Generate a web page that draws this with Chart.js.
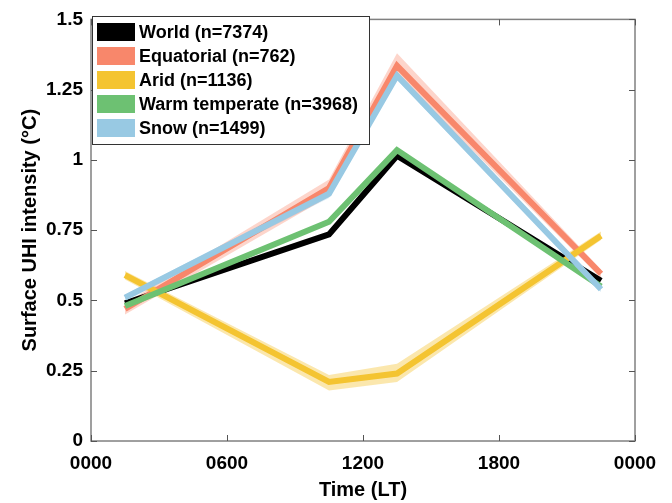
<!DOCTYPE html>
<html>
<head>
<meta charset="utf-8">
<script src="https://cdn.jsdelivr.net/npm/chart.js@4.4.0/dist/chart.umd.min.js"></script>
<style>
  html, body { margin: 0; padding: 0; background: #fff; }
  #wrap { width: 672px; height: 503px; }
</style>
</head>
<body>
<div id="wrap"><canvas id="uhiChart" width="672" height="503"></canvas></div>
<script>
// Local time of the four satellite overpasses (hours)
const hours = [1.5, 10.5, 13.5, 22.5];
const xTickLabels = ['0000', '0600', '1200', '1800', '0000'];
const yTickLabels = ['0', '0.25', '0.5', '0.75', '1', '1.25', '1.5'];

// Mean surface UHI intensity per climate zone (°C)
const world = [0.49, 0.735, 1.015, 0.57];
const equatorial = [0.47, 0.90, 1.335, 0.595];
const arid = [0.59, 0.21, 0.24, 0.73];
const warmTemperate = [0.48, 0.78, 1.035, 0.55];
const snow = [0.51, 0.88, 1.30, 0.54];

// Uncertainty bands (lower / upper)
const equatorialLo = [0.45, 0.87, 1.30, 0.58];
const equatorialHi = [0.49, 0.93, 1.38, 0.61];
const aridLo = [0.575, 0.18, 0.21, 0.715];
const aridHi = [0.605, 0.235, 0.275, 0.745];
const snowLo = [0.50, 0.865, 1.285, 0.53];
const snowHi = [0.52, 0.895, 1.315, 0.55];

const FONT = '"Liberation Sans", Arial, sans-serif';

function pts(arr) {
    return arr.map((v, i) => ({ x: hours[i], y: v }));
}

function line(label, data, color, order) {
    return {
        label: label,
        data: pts(data),
        borderColor: color,
        backgroundColor: color,
        borderWidth: 6,
        borderJoinStyle: 'miter',
        borderCapStyle: 'butt',
        pointRadius: 0,
        fill: false,
        order: order,
    };
}

function band(lo, hi, color) {
    return [{
        label: '',
        band: true,
        data: pts(hi),
        borderWidth: 0,
        pointRadius: 0,
        backgroundColor: color,
        fill: '+1',
        order: 20,
    }, {
        label: '',
        band: true,
        data: pts(lo),
        borderWidth: 0,
        pointRadius: 0,
        backgroundColor: color,
        fill: false,
        order: 20,
    }];
}

// Legend box drawn inside the axes, MATLAB style
const legendBox = {
    id: 'legendBox',
    afterDraw(chart) {
        const ctx = chart.ctx;
        const items = chart.data.datasets.filter(d => !d.band);
        const x0 = 92, y0 = 16, w = 277, h = 128;
        ctx.save();
        ctx.fillStyle = '#fff';
        ctx.fillRect(x0, y0, w, h);
        ctx.strokeStyle = '#333';
        ctx.lineWidth = 1;
        ctx.strokeRect(x0 + 0.5, y0 + 0.5, w, h);
        ctx.font = 'bold 18px ' + FONT;
        ctx.textBaseline = 'middle';
        items.forEach((d, i) => {
            const cy = y0 + 16 + i * 24;
            ctx.fillStyle = d.borderColor;
            ctx.fillRect(x0 + 5, cy - 9, 38, 18);
            ctx.fillStyle = '#000';
            ctx.fillText(d.label, x0 + 47, cy + 1);
        });
        ctx.restore();
    }
};

// Box around the axes with inward ticks
const axesFrame = {
    id: 'axesFrame',
    afterDatasetsDraw(chart) {
        const ctx = chart.ctx;
        const a = chart.chartArea;
        const xs = chart.scales.x, ys = chart.scales.y;
        ctx.save();
        ctx.strokeStyle = '#808080';
        ctx.lineWidth = 1.5;
        ctx.strokeRect(a.left, a.top, a.right - a.left, a.bottom - a.top);
        ctx.strokeStyle = '#555';
        ctx.lineWidth = 1;
        ctx.beginPath();
        xs.ticks.forEach(t => {
            const px = Math.round(xs.getPixelForValue(t.value)) + 0.5;
            ctx.moveTo(px, a.bottom); ctx.lineTo(px, a.bottom - 6);
            ctx.moveTo(px, a.top); ctx.lineTo(px, a.top + 6);
        });
        ys.ticks.forEach(t => {
            const py = Math.round(ys.getPixelForValue(t.value)) + 0.5;
            ctx.moveTo(a.left, py); ctx.lineTo(a.left + 6, py);
            ctx.moveTo(a.right, py); ctx.lineTo(a.right - 6, py);
        });
        ctx.stroke();
        ctx.restore();
    }
};

const ctx = document.getElementById('uhiChart').getContext('2d');
new Chart(ctx, {
    type: 'line',
    data: {
        datasets: [
            line('World (n=7374)', world, '#000000', 5),
            line('Equatorial (n=762)', equatorial, '#F8876B', 4),
            line('Arid (n=1136)', arid, '#F4C431', 3),
            line('Warm temperate (n=3968)', warmTemperate, '#6DC172', 2),
            line('Snow (n=1499)', snow, '#98C9E3', 1),
            ...band(equatorialLo, equatorialHi, 'rgba(248,135,107,0.35)'),
            ...band(aridLo, aridHi, 'rgba(244,196,49,0.4)'),
            ...band(snowLo, snowHi, 'rgba(152,201,227,0.4)'),
        ],
    },
    options: {
        responsive: false,
        animation: false,
        layout: { padding: { top: 15, right: 37, left: 0, bottom: 0 } },
        plugins: {
            legend: { display: false },
            tooltip: { enabled: false },
        },
        scales: {
            x: {
                type: 'linear',
                min: 0,
                max: 24,
                afterFit: s => { s.height = 62; },
                afterBuildTicks: s => { s.ticks = [0, 6, 12, 18, 24].map(v => ({ value: v })); },
                ticks: {
                    padding: 11,
                    color: '#000',
                    font: { family: FONT, size: 19, weight: 'bold' },
                    callback: (v, i) => xTickLabels[i],
                },
                grid: { drawOnChartArea: false, drawTicks: false },
                border: { display: false },
                title: {
                    display: true,
                    text: 'Time (LT)',
                    color: '#000',
                    font: { family: FONT, size: 20, weight: 'bold' },
                    padding: { top: 0, bottom: 1 },
                },
            },
            y: {
                min: 0,
                max: 1.5,
                afterFit: s => { s.width = 91; },
                afterBuildTicks: s => { s.ticks = [0, 0.25, 0.5, 0.75, 1, 1.25, 1.5].map(v => ({ value: v })); },
                ticks: {
                    padding: 8,
                    color: '#000',
                    font: { family: FONT, size: 19, weight: 'bold' },
                    callback: (v, i) => yTickLabels[i],
                },
                grid: { drawOnChartArea: false, drawTicks: false },
                border: { display: false },
                title: {
                    display: true,
                    text: 'Surface UHI intensity (°C)',
                    color: '#000',
                    font: { family: FONT, size: 20, weight: 'bold' },
                    padding: { top: 18, bottom: 0 },
                },
            },
        },
    },
    plugins: [axesFrame, legendBox],
});
</script>
</body>
</html>
